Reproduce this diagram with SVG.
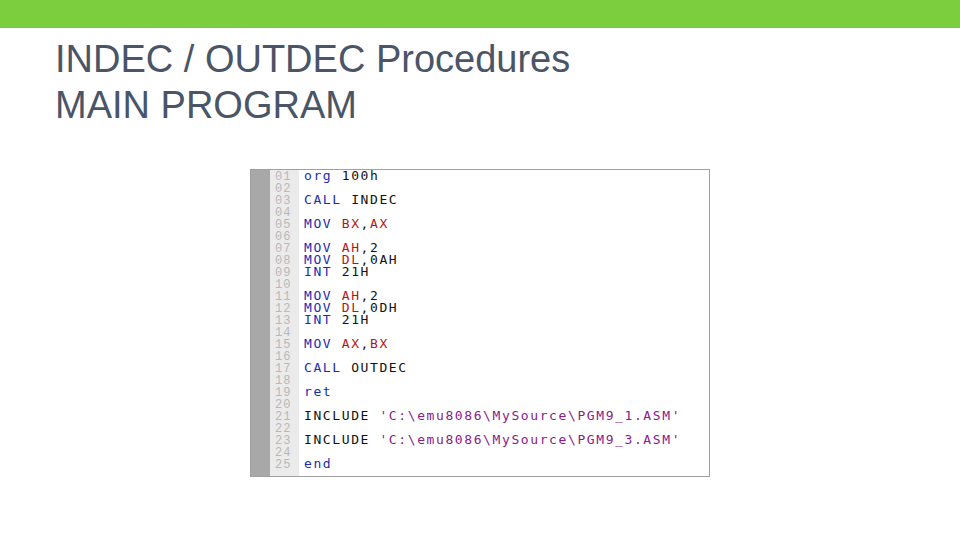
<svg xmlns="http://www.w3.org/2000/svg" width="960" height="540" viewBox="0 0 960 540">
<style>
.t{font-family:"Liberation Sans",Arial,sans-serif;font-size:38px;fill:#4A5568}
.n{font-family:"Liberation Mono",monospace;font-size:12px;fill:#B8B8B8;letter-spacing:1px}
.c{font-family:"DejaVu Sans Mono","Liberation Mono",monospace;font-size:13px;letter-spacing:1.6px;fill:#111}
.k{fill:#1C2CB0}.r{fill:#B01818}.s{fill:#8A1A8A}
</style>
<rect x="0" y="0" width="960" height="28" fill="#7DCE3E"/>
<g id="title">
<text class="t" x="55" y="72">INDEC / OUTDEC Procedures</text>
<text class="t" x="55" y="118">MAIN PROGRAM</text>
</g>
<g id="editor">
<rect x="250.5" y="169.5" width="459" height="307" fill="#fff" stroke="#A0A0A0"/>
<rect x="251" y="170" width="19" height="306" fill="#A8A8A8"/>
<rect x="270" y="170" width="29" height="306" fill="#EBEBEB"/>
<g class="n">
<text x="275" y="180">01</text><text x="275" y="192">02</text><text x="275" y="204">03</text><text x="275" y="216">04</text><text x="275" y="228">05</text><text x="275" y="240">06</text><text x="275" y="252">07</text><text x="275" y="264">08</text><text x="275" y="276">09</text><text x="275" y="288">10</text><text x="275" y="300">11</text><text x="275" y="312">12</text><text x="275" y="324">13</text><text x="275" y="336">14</text><text x="275" y="348">15</text><text x="275" y="360">16</text><text x="275" y="372">17</text><text x="275" y="384">18</text><text x="275" y="396">19</text><text x="275" y="408">20</text><text x="275" y="420">21</text><text x="275" y="432">22</text><text x="275" y="444">23</text><text x="275" y="456">24</text><text x="275" y="468">25</text>
</g>
<g class="c">
<text x="304" y="180"><tspan class="k">org</tspan> 100h</text>
<text x="304" y="204"><tspan class="k">CALL</tspan> INDEC</text>
<text x="304" y="228"><tspan class="k">MOV</tspan> <tspan class="r">BX</tspan>,<tspan class="r">AX</tspan></text>
<text x="304" y="252"><tspan class="k">MOV</tspan> <tspan class="r">AH</tspan>,2</text>
<text x="304" y="264"><tspan class="k">MOV</tspan> <tspan class="r">DL</tspan>,0AH</text>
<text x="304" y="276"><tspan class="k">INT</tspan> 21H</text>
<text x="304" y="300"><tspan class="k">MOV</tspan> <tspan class="r">AH</tspan>,2</text>
<text x="304" y="312"><tspan class="k">MOV</tspan> <tspan class="r">DL</tspan>,0DH</text>
<text x="304" y="324"><tspan class="k">INT</tspan> 21H</text>
<text x="304" y="348"><tspan class="k">MOV</tspan> <tspan class="r">AX</tspan>,<tspan class="r">BX</tspan></text>
<text x="304" y="372"><tspan class="k">CALL</tspan> OUTDEC</text>
<text x="304" y="396"><tspan class="k">ret</tspan></text>
<text x="304" y="420">INCLUDE <tspan class="s">'C:\emu8086\MySource\PGM9_1.ASM'</tspan></text>
<text x="304" y="444">INCLUDE <tspan class="s">'C:\emu8086\MySource\PGM9_3.ASM'</tspan></text>
<text x="304" y="468"><tspan class="k">end</tspan></text>
</g>
</g>
</svg>
